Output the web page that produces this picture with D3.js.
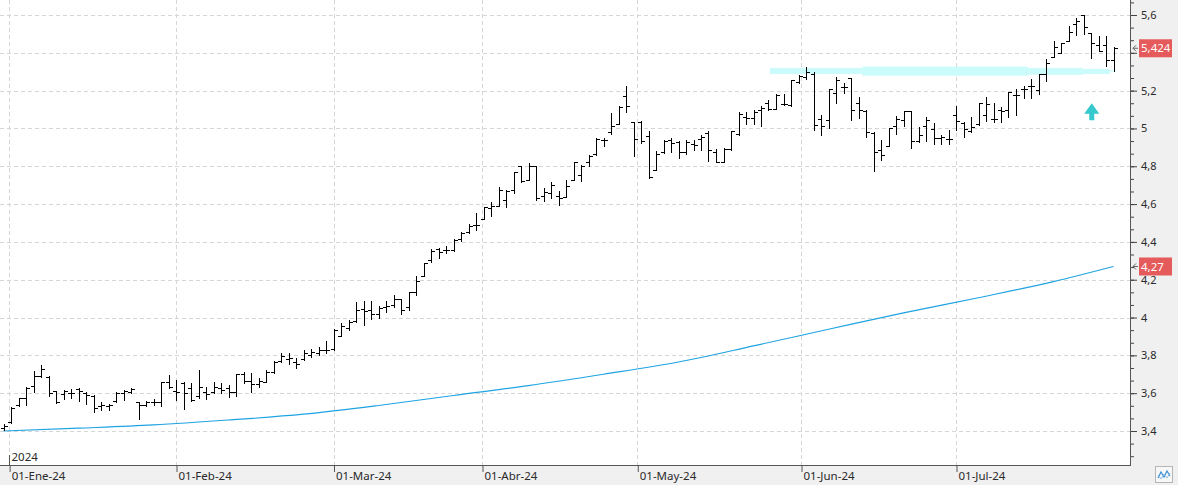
<!DOCTYPE html>
<html><head><meta charset="utf-8">
<script src="https://cdn.jsdelivr.net/npm/d3@7"></script>
<style>
html,body{margin:0;padding:0;background:#fff;overflow:hidden}
svg{display:block;font-family:"Noto Sans","Open Sans",sans-serif}
</style></head><body>
<svg id="c" width="1178" height="485"></svg>
<script>
// ---------- data ----------
const opens = [3.417,3.45,3.535,3.575,3.637,3.69,3.685,3.61,3.595,3.60,3.62,3.60,3.585,3.53,3.53,3.56,3.60,3.605,3.555,3.54,
3.555,3.555,3.66,3.61,3.655,3.625,3.585,3.605,3.605,3.63,3.625,3.605,3.70,3.665,3.65,3.66,3.71,3.77,3.78,3.765,
3.78,3.80,3.815,3.83,3.835,3.90,3.945,3.98,4.045,4.04,4.02,4.055,4.065,4.10,4.055,4.135,4.22,4.305,4.365,4.355,
4.355,4.415,4.455,4.49,4.52,4.58,4.59,4.62,4.675,4.80,4.73,4.80,4.645,4.66,4.645,4.635,4.725,4.755,4.825,4.865,
4.94,4.98,5.025,5.17,5.035,5.035,4.96,4.78,4.875,4.94,4.93,4.875,4.92,4.945,4.975,4.875,4.825,4.89,4.97,5.06,
5.055,5.10,5.135,5.105,5.13,5.125,5.247,5.27,5.29,5.05,5.045,5.19,5.218,5.265,5.135,5.09,4.975,4.886,4.907,5.013,
5.045,5.09,4.935,5.013,4.995,4.948,4.942,5.07,5.03,4.988,5.023,5.07,5.048,5.10,5.097,5.177,5.207,5.225,5.203,5.29,
5.38,5.40,5.464,5.552,5.60,5.503,5.441,5.441,5.362];
const highs = [3.437,3.528,3.577,3.633,3.718,3.748,3.69,3.612,3.615,3.62,3.625,3.605,3.59,3.555,3.545,3.605,3.615,3.625,3.555,3.56,
3.57,3.66,3.695,3.67,3.66,3.655,3.72,3.635,3.66,3.655,3.645,3.70,3.71,3.705,3.68,3.72,3.77,3.81,3.81,3.785,
3.83,3.835,3.845,3.875,3.94,3.97,3.985,4.08,4.085,4.085,4.06,4.085,4.12,4.10,4.135,4.22,4.29,4.36,4.37,4.38,
4.415,4.45,4.495,4.555,4.585,4.61,4.69,4.675,4.77,4.80,4.815,4.80,4.685,4.715,4.67,4.725,4.825,4.805,4.86,4.95,
4.95,5.08,5.12,5.225,5.035,5.04,4.985,4.88,4.94,4.95,4.935,4.94,4.94,4.965,4.985,4.89,4.895,4.985,5.085,5.085,
5.10,5.12,5.15,5.18,5.18,5.255,5.283,5.325,5.30,5.07,5.21,5.27,5.243,5.265,5.168,5.095,4.982,4.94,5.0,5.066,
5.094,5.09,5.01,5.062,5.027,4.965,4.99,5.118,5.035,5.062,5.136,5.168,5.136,5.115,5.194,5.207,5.225,5.26,5.29,5.365,
5.464,5.453,5.542,5.582,5.60,5.506,5.489,5.489,5.43];
const lows = [3.405,3.44,3.53,3.54,3.607,3.685,3.585,3.55,3.57,3.575,3.56,3.545,3.50,3.51,3.51,3.555,3.565,3.60,3.465,3.53,
3.535,3.53,3.625,3.565,3.515,3.56,3.575,3.57,3.60,3.60,3.58,3.585,3.655,3.605,3.635,3.66,3.705,3.765,3.755,3.735,
3.775,3.79,3.80,3.815,3.83,3.90,3.935,3.975,3.96,3.99,3.995,4.03,4.055,4.02,4.04,4.12,4.22,4.295,4.315,4.34,
4.35,4.405,4.445,4.465,4.52,4.535,4.59,4.585,4.66,4.715,4.725,4.62,4.615,4.63,4.595,4.635,4.725,4.72,4.80,4.86,
4.905,4.97,5.025,5.085,4.855,4.925,4.74,4.78,4.87,4.875,4.845,4.865,4.885,4.885,4.83,4.82,4.82,4.885,4.965,5.025,
5.025,5.015,5.10,5.105,5.125,5.12,5.24,5.26,4.99,4.965,5.005,5.135,5.186,5.045,5.054,4.955,4.776,4.833,4.907,4.97,
5.013,4.895,4.93,4.935,4.918,4.92,4.92,4.99,4.953,4.982,5.018,5.04,5.035,5.035,5.062,5.07,5.16,5.16,5.182,5.252,
5.376,5.397,5.464,5.494,5.50,5.37,5.41,5.33,5.305];
const closes = [3.427,3.522,3.572,3.63,3.69,3.728,3.60,3.555,3.612,3.60,3.61,3.59,3.52,3.535,3.54,3.60,3.61,3.62,3.54,3.555,
3.555,3.66,3.635,3.605,3.60,3.565,3.635,3.595,3.635,3.615,3.605,3.70,3.665,3.65,3.665,3.71,3.765,3.795,3.785,3.755,
3.815,3.82,3.83,3.83,3.935,3.955,3.975,4.04,4.035,4.02,4.05,4.06,4.10,4.04,4.135,4.195,4.29,4.35,4.345,4.355,
4.41,4.445,4.485,4.49,4.585,4.59,4.675,4.67,4.77,4.72,4.80,4.63,4.665,4.70,4.63,4.695,4.82,4.80,4.855,4.945,
4.94,5.015,5.115,5.12,4.945,4.935,4.745,4.865,4.935,4.925,4.875,4.93,4.915,4.955,4.885,4.825,4.89,4.985,5.075,5.055,
5.085,5.11,5.105,5.175,5.13,5.255,5.277,5.30,5.02,5.015,5.21,5.255,5.218,5.10,5.10,4.98,4.877,4.86,5.0,5.048,
5.094,4.935,4.965,5.045,4.948,4.953,4.942,5.04,4.995,5.006,5.133,5.129,5.05,5.094,5.194,5.177,5.207,5.225,5.29,5.348,
5.432,5.45,5.512,5.57,5.538,5.45,5.41,5.362,5.424];

// 200-session moving average, read at every 10th session
const maIndex  = [0,10,20,30,40,50,60,70,80,90,100,110,120,130,140,148];
const maValues = [3.40,3.415,3.432,3.458,3.489,3.535,3.588,3.64,3.70,3.765,3.85,3.938,4.025,4.105,4.19,4.27];

const firstSession = "2023-12-29", lastSession = "2024-07-30";
const holidays = ["2024-01-01","2024-03-29","2024-04-01","2024-05-01"];
const monthTickDates  = ["2024-01-01","2024-02-01","2024-03-01","2024-04-01","2024-05-01","2024-06-01","2024-07-01"];
const monthTickLabels = ["01-Ene-24","01-Feb-24","01-Mar-24","01-Abr-24","01-May-24","01-Jun-24","01-Jul-24"];
const yearLabel = "2024";
const priceTicks = [3.2,3.4,3.6,3.8,4.0,4.2,4.4,4.6,4.8,5.0,5.2,5.4,5.6];
const lastPrice = 5.424, lastMA = 4.27;
// resistance highlight (session index from/to, price top/bottom)
const hlFrom = [102.2,114.5,136.6,143.9,147.5];
const hlTo   = [114.5,136.6,143.9,147.5,148.3];
const hlTop  = [5.320,5.327,5.320,5.315,5.308];
const hlBot  = [5.288,5.279,5.284,5.288,5.301];
const arrowAt = 145.1, arrowTip = 5.133, arrowHead = 5.078, arrowBase = 5.044;

// ---------- sessions ----------
const parse = d3.utcParse("%Y-%m-%d");
const hol = new Set(holidays);
const sessions = d3.utcDays(parse(firstSession), d3.utcDay.offset(parse(lastSession),1))
  .filter(d => d.getUTCDay()!==0 && d.getUTCDay()!==6 && !hol.has(d3.utcFormat("%Y-%m-%d")(d)));
const n = sessions.length;
function dateToIndex(d){
  for(let i=0;i<n-1;i++){
    if(d>=sessions[i] && d<sessions[i+1]) return i + (d-sessions[i])/(sessions[i+1]-sessions[i]);
  }
  return n-1;
}

// ---------- layout ----------
const W=1178,H=485, plotR=1130, plotB=465;
const svg=d3.select("#c");
const x=d3.scaleLinear().domain([0,148]).range([3.5,1113.5]);
const y=d3.scaleLinear().domain([3.4,5.6]).range([431,15]);

svg.append("defs").append("clipPath").attr("id","clip").append("rect")
  .attr("x",0).attr("y",0).attr("width",plotR).attr("height",plotB);
const plot=svg.append("g").attr("clip-path","url(#clip)");

// grid
const gridC="#d6d6d6";
plot.selectAll("line.hg").data(priceTicks).join("line")
  .attr("x1",0).attr("x2",plotR).attr("y1",d=>Math.round(y(d))+0.5).attr("y2",d=>Math.round(y(d))+0.5)
  .attr("stroke",gridC).attr("stroke-dasharray","4,3");
const tickIdx = monthTickDates.map(s=>dateToIndex(parse(s)));
plot.selectAll("line.vg").data(tickIdx).join("line")
  .attr("x1",d=>Math.round(x(d))+0.5).attr("x2",d=>Math.round(x(d))+0.5).attr("y1",0).attr("y2",plotB)
  .attr("stroke",gridC).attr("stroke-dasharray","4,3");

// highlight band
plot.selectAll("rect.hl").data(hlFrom).join("rect")
  .attr("x",(d,i)=>x(d)).attr("width",(d,i)=>x(hlTo[i])-x(d))
  .attr("y",(d,i)=>y(hlTop[i])).attr("height",(d,i)=>y(hlBot[i])-y(hlTop[i]))
  .attr("fill","#cbfbfb");

// moving average
plot.append("path").datum(maIndex)
  .attr("d",d3.line().curve(d3.curveMonotoneX).x(i=>x(i)).y((i,k)=>y(maValues[k])))
  .attr("fill","none").attr("stroke","#1ea3e2").attr("stroke-width",1.15);

// OHLC bars
plot.append("g").selectAll("path").data(d3.range(n)).join("path")
  .attr("d",i=>{
    const xx=Math.round(x(i))+0.5;
    const yh=Math.round(y(highs[i])), yl=Math.round(y(lows[i]))+1;
    const yo=Math.round(y(opens[i]))+0.5, yc=Math.round(y(closes[i]))+0.5;
    return `M${xx},${yh}V${yl}M${xx-3.5},${yo}H${xx}M${xx},${yc}H${xx+3.5}`;
  })
  .attr("fill","none").attr("stroke","#000").attr("stroke-width",1.2).attr("shape-rendering","crispEdges");

// up arrow
{
  const ax=x(arrowAt), t=y(arrowTip), h=y(arrowHead), b=y(arrowBase);
  plot.append("path")
    .attr("d",`M${ax},${t}L${ax+7.5},${h}L${ax+2.5},${h}L${ax+2.5},${b}L${ax-2.5},${b}L${ax-2.5},${h}L${ax-7.5},${h}Z`)
    .attr("fill","#35c8cc");
}

// right panel
svg.append("rect").attr("x",plotR).attr("y",0).attr("width",W-plotR).attr("height",H).attr("fill","#f0f0f0");
const fmt = d => String(+d.toFixed(3)).replace(".",",");
const minor = d3.range(0,38).map(k=>3.2+k*0.2/3);
svg.append("g").attr("transform",`translate(${plotR},0)`)
  .call(d3.axisRight(y).tickValues(minor).tickSize(4).tickFormat(""))
  .call(g=>g.select(".domain").remove())
  .call(g=>g.selectAll("line").attr("stroke","#444"));
// labels hidden behind the last-price tag are left out, the tick stays
const hiddenByTag = v => Math.abs(y(v)-y(lastPrice))<12;
const ya=svg.append("g").attr("transform",`translate(${plotR},0)`)
  .call(d3.axisRight(y).tickValues(priceTicks).tickSize(7).tickPadding(4)
        .tickFormat(d=>hiddenByTag(d)?"":fmt(d)))
  .call(g=>g.select(".domain").remove());
ya.selectAll("line").attr("stroke","#444");
ya.selectAll("text").attr("fill","#2a2a2a").style("font-size","11px").style("font-family",'"Noto Sans",sans-serif');

// price labels
function tag(v,label){
  const yy=y(v);
  svg.append("rect").attr("x",1139).attr("y",yy-9).attr("width",33).attr("height",18).attr("fill","#e55a5a");
  svg.append("text").attr("x",1141).attr("y",yy).attr("dy","0.36em").attr("fill","#fff")
    .style("font-size","11.5px").text(label);
  svg.append("path").attr("d",`M1138,${yy}H1133M1136,${yy-3}L1133,${yy}L1136,${yy+3}`)
    .attr("fill","none").attr("stroke","#555").attr("stroke-width",0.9);
}
tag(lastPrice,fmt(lastPrice));
tag(lastMA,fmt(lastMA));

// bottom panel
svg.append("rect").attr("x",0).attr("y",plotB).attr("width",W).attr("height",H-plotB).attr("fill","#f0f0f0");
svg.append("line").attr("x1",0).attr("x2",plotR).attr("y1",plotB+0.5).attr("y2",plotB+0.5).attr("stroke","#555");
svg.append("line").attr("x1",plotR+0.5).attr("x2",plotR+0.5).attr("y1",0).attr("y2",plotB+1).attr("stroke","#555");

const xa=svg.append("g").attr("transform",`translate(0,${plotB})`)
  .call(d3.axisBottom(x).tickValues(tickIdx).tickSize(7).tickFormat((d,i)=>monthTickLabels[i]))
  .call(g=>g.select(".domain").remove());
xa.selectAll("line").attr("stroke","#555").attr("transform","translate(0.5,0)");
xa.selectAll("text").attr("text-anchor","start").attr("dx","2").attr("y",10).attr("dy","0.4em")
  .attr("fill","#2a2a2a").style("font-size","11.5px").style("font-family",'"Noto Sans",sans-serif');

// year marker
{
  const yx=Math.round(x(tickIdx[0]))+0.5;
  svg.append("line").attr("x1",yx).attr("x2",yx).attr("y1",455).attr("y2",plotB).attr("stroke","#555");
  svg.append("text").attr("x",yx+2).attr("y",461).attr("fill","#2a2a2a").style("font-size","11.5px").text(yearLabel);
}

// corner icon
svg.append("rect").attr("x",1155.5).attr("y",466.5).attr("width",17).attr("height",16)
  .attr("fill","#f7f7f7").attr("stroke","#b5b5b5");
svg.append("path").attr("d","M1158,478L1161,472L1164,477L1167,471L1170,476")
  .attr("fill","none").attr("stroke","#3b8fd3").attr("stroke-width",1.2);
svg.append("path").attr("d","M1158,475L1161,479L1164,474L1167,478L1170,473")
  .attr("fill","none").attr("stroke","#8fc0e8").attr("stroke-width",1);
</script>
</body></html>
